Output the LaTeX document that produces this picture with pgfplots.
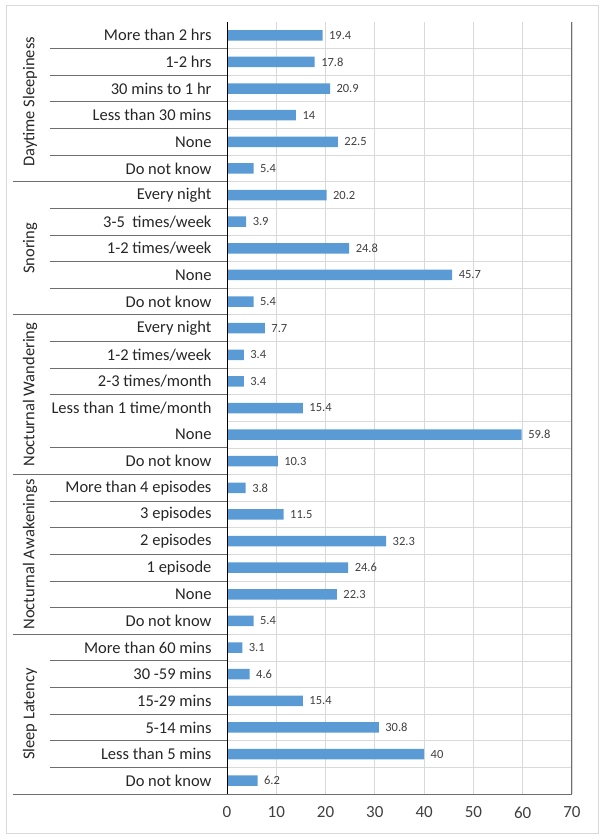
\documentclass[border=0pt]{standalone}
\usepackage{pgfplots}
\pgfplotsset{compat=1.18}
\usepackage{pgfplotstable}
\usepackage{fontspec}
\setmainfont{Carlito}
\definecolor{barblue}{HTML}{5B9BD5}
\definecolor{gridc}{HTML}{D9D9D9}
\definecolor{sepc}{HTML}{6E6E6E}
\definecolor{txt}{HTML}{262626}
\definecolor{vtxt}{HTML}{404040}
\definecolor{ttxt}{HTML}{404040}

\pgfplotstableread{
y x label
0 19.4 19.4
1 17.8 17.8
2 20.9 20.9
3 14 14
4 22.5 22.5
5 5.4 5.4
6 20.2 20.2
7 3.9 3.9
8 24.8 24.8
9 45.7 45.7
10 5.4 5.4
11 7.7 7.7
12 3.4 3.4
13 3.4 3.4
14 15.4 15.4
15 59.8 59.8
16 10.3 10.3
17 3.8 3.8
18 11.5 11.5
19 32.3 32.3
20 24.6 24.6
21 22.3 22.3
22 5.4 5.4
23 3.1 3.1
24 4.6 4.6
25 15.4 15.4
26 30.8 30.8
27 40 40
28 6.2 6.2
}\datatable

\begin{document}
\begin{tikzpicture}[x=1pt,y=1pt]
\path[use as bounding box] (0,0) rectangle (604,840);
\draw[gridc, line width=1pt] (6,6) rectangle (598,834);
\begin{axis}[
  at={(227pt,46pt)}, anchor=south west,
  width=345pt, height=772pt, scale only axis,
  xmin=0, xmax=70, ymin=-0.5, ymax=28.5,
  y dir=reverse,
  xbar, bar width=10.5pt,
  axis line style={draw=none},
  major tick length=0pt, minor tick length=0pt,
  xtick={0,10,...,70},
  ytick={0,...,28},
  minor ytick={0.5,1.5,...,27.5},
  xmajorgrids=true, yminorgrids=true,
  grid style={gridc, line width=0.8pt},
  minor grid style={gridc, line width=0.8pt},
  /pgf/number format/assume math mode=true,
  xticklabel style={font=\fontsize{17}{17}\selectfont, text=ttxt, yshift=-9pt},
  yticklabels={More than 2 hrs, 1-2 hrs, 30 mins to 1 hr, Less than 30 mins, None, Do not know,
    Every night, 3-5\ \ times/week, 1-2 times/week, None, Do not know,
    Every night, 1-2 times/week, 2-3 times/month, Less than 1 time/month, None, Do not know,
    More than 4 episodes, 3 episodes, 2 episodes, 1 episode, None, Do not know,
    More than 60 mins, 30 -59 mins, 15-29 mins, 5-14 mins, Less than 5 mins, Do not know},
  yticklabel style={font=\fontsize{16.5}{16.5}\selectfont, text=txt, xshift=-12pt},
  nodes near coords,
  point meta=explicit symbolic,
  nodes near coords style={font=\fontsize{12.5}{12.5}\selectfont, text=vtxt, anchor=west, xshift=3pt},
  clip=false,
]
\addplot[fill=barblue, draw=none] table[x=x, y=y, meta=label] {\datatable};
% axis frame lines
\draw[black, line width=0.9pt] (axis cs:0,-0.5) -- (axis cs:0,28.5);
\draw[sepc, line width=1pt] (axis cs:70,-0.5) -- (axis cs:70,28.5);
\draw[sepc, line width=0.9pt] ([xshift=-214pt]axis cs:0,28.5) -- (axis cs:70,28.5);
% group separators
\pgfplotsinvokeforeach{5.5,10.5,16.5,22.5}{
  \draw[sepc, line width=0.9pt] ([xshift=-214pt]axis cs:0,#1) -- (axis cs:0,#1);
}
% within-group separators
\pgfplotsinvokeforeach{0.5,1.5,2.5,3.5,4.5,6.5,7.5,8.5,9.5,11.5,12.5,13.5,15.5,17.5,18.5,19.5,20.5,21.5,23.5,24.5,25.5,26.5,27.5}{
  \draw[sepc, line width=0.9pt] ([xshift=-177pt]axis cs:0,#1) -- (axis cs:0,#1);
}
% group labels
\node[rotate=90, font=\fontsize{16.5}{16.5}\selectfont, text=txt] at ([xshift=-197pt]axis cs:0,2.5) {Daytime Sleepiness};
\node[rotate=90, font=\fontsize{16.5}{16.5}\selectfont, text=txt] at ([xshift=-197pt]axis cs:0,8) {Snoring};
\node[rotate=90, font=\fontsize{16.5}{16.5}\selectfont, text=txt] at ([xshift=-197pt]axis cs:0,13.5) {Nocturnal Wandering};
\node[rotate=90, font=\fontsize{16.5}{16.5}\selectfont, text=txt] at ([xshift=-197pt]axis cs:0,19.5) {Nocturnal Awakenings};
\node[rotate=90, font=\fontsize{16.5}{16.5}\selectfont, text=txt] at ([xshift=-197pt]axis cs:0,25.5) {Sleep Latency};
\end{axis}
\end{tikzpicture}
\end{document}
